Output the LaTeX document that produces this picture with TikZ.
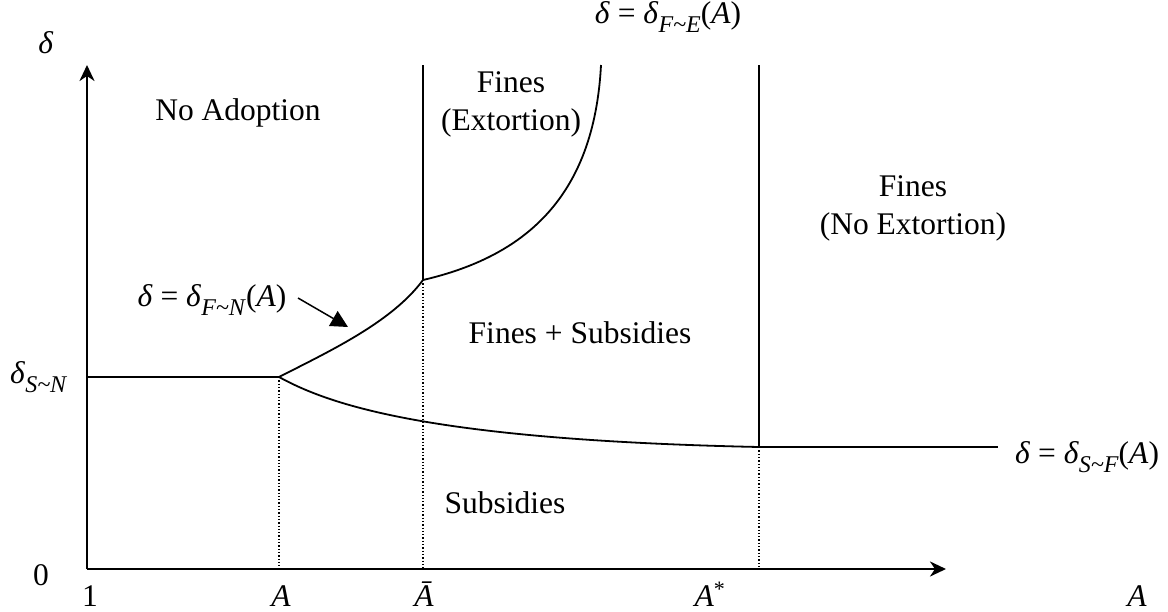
\documentclass[tikz,border=0pt]{standalone}
\usepackage{fontspec}
\setmainfont{Liberation Serif}
\usetikzlibrary{arrows.meta}
\newcommand{\dl}{\textit{δ}}
\newcommand{\sbx}[1]{\raisebox{-0.28em}{\fontsize{24}{24}\selectfont\textit{#1}}}
\begin{document}
\begin{tikzpicture}[x=1pt,y=-1pt,
  lbl/.style={font=\fontsize{31.5}{38}\selectfont, inner sep=0pt, align=center},
  axis/.style={line width=2.6pt, -{Stealth[length=16pt,width=15pt,inset=5pt]}},
  curve/.style={line width=1.8pt},
  guide/.style={line width=1.3pt, dotted},
  callout/.style={line width=1.5pt, -{Triangle[length=17pt,width=17pt]}}]
\useasboundingbox (0,0) rectangle (1168,611);
% coordinates
\coordinate (O) at (87,569);
\coordinate (ytip) at (87,65);
\coordinate (xtip) at (946,569);
\coordinate (L) at (87,377);
\coordinate (B) at (279,377);
\coordinate (K) at (423,280);
\coordinate (Ktop) at (423,65);
\coordinate (E) at (601,65);
\coordinate (S) at (759,447);
\coordinate (Stop) at (759,65);
\coordinate (R) at (998,447);
\coordinate (Bb) at (279,569);
\coordinate (Kb) at (423,569);
\coordinate (Sb) at (759,569);
% axes
\draw[axis] (O) -- (ytip);
\draw[axis] (O) -- (xtip);
% guides
\draw[guide] (B) -- (Bb);
\draw[guide] (K) -- (Kb);
\draw[guide] (S) -- (Sb);
% boundaries
\draw[curve] (L) -- (B);
\draw[curve] (B) .. controls (330,351) and (392,322) .. (K);
\draw[curve] (K) .. controls (522,257) and (594,200) .. (E);
\draw[curve] (K) -- (Ktop);
\draw[curve] (B) .. controls (330,405) and (430,440) .. (S);
\draw[curve] (S) -- (Stop);
\draw[curve] (S) -- (R);
% axis labels
\node[lbl] (ylab) at (46,43) {\dl};
\node[lbl] (zero) at (41,575) {0};
\node[lbl, anchor=base] (one) at (90,606) {1};
\node[lbl, anchor=base] (xA) at (281,606) {\textit{A}};
\node[lbl, anchor=base] (xAbar) at (424,606) {\textit{Ā}};
\node[lbl, anchor=base] (xAstar) at (710,606) {\textit{A}\textsuperscript{*}};
\node[lbl, anchor=base] (xlab) at (1137,606) {\textit{A}};
\node[lbl, anchor=west] (dSN) at (10,377) {\dl\sbx{S\textasciitilde N}};
% region labels
\node[lbl] (noad) at (238,113) {No Adoption};
\node[lbl] (fext) at (511,104) {Fines\\(Extortion)};
\node[lbl] (fnoext) at (913,208) {Fines\\(No Extortion)};
\node[lbl] (fs) at (580,333) {Fines + Subsidies};
\node[lbl] (sub) at (505,503) {Subsidies};
% curve labels
\node[lbl] (lFE) at (668,17) {\dl{} = \dl\sbx{F\textasciitilde E}(\textit{A})};
\node[lbl] (lFN) at (212,300) {\dl{} = \dl\sbx{F\textasciitilde N}(\textit{A})};
\node[lbl, anchor=west] (lSF) at (1015,457) {\dl{} = \dl\sbx{S\textasciitilde F}(\textit{A})};
\coordinate (cstart) at (298,298);
\coordinate (ctip) at (348,327);
\draw[callout] (cstart) -- (ctip);
\end{tikzpicture}
\end{document}
